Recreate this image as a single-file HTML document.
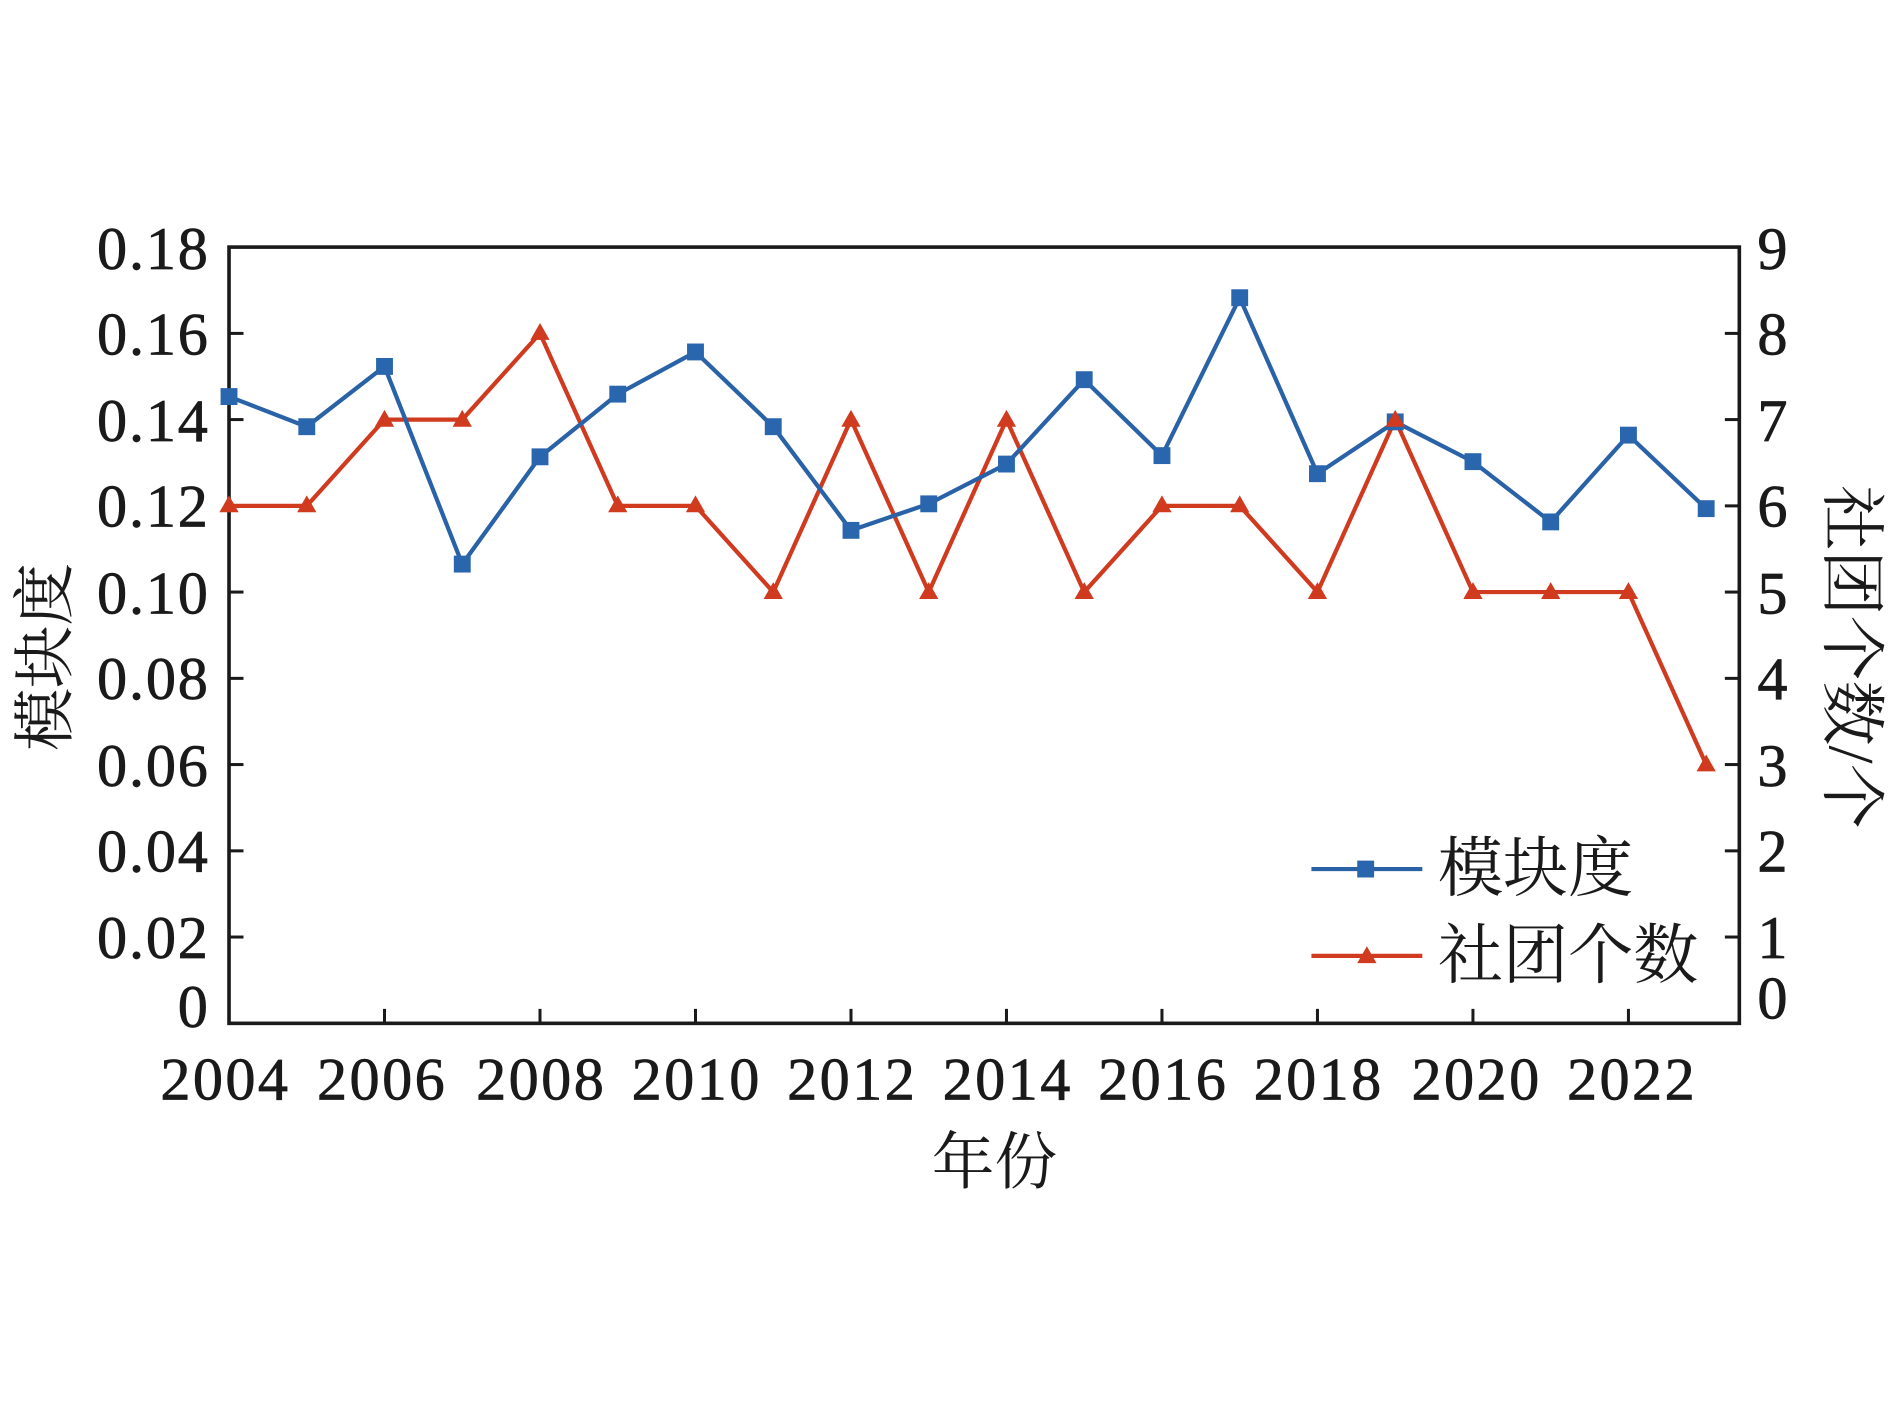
<!DOCTYPE html>
<html><head><meta charset="utf-8"><style>html,body{margin:0;padding:0;background:#fff}svg{display:block}</style></head>
<body>
<svg width="1890" height="1417" viewBox="0 0 1568 1175.6" preserveAspectRatio="none" xmlns="http://www.w3.org/2000/svg" font-family="'Liberation Serif','Noto Serif CJK SC',serif">
<rect width="1568" height="1176" fill="#fff"/>
<rect x="190" y="205" width="1253" height="644" fill="none" stroke="#1a1a1a" stroke-width="3"/>
<g stroke="#1a1a1a" stroke-width="2.5">
<line x1="190" y1="276.6" x2="202" y2="276.6"/><line x1="190" y1="348.1" x2="202" y2="348.1"/><line x1="190" y1="419.7" x2="202" y2="419.7"/><line x1="190" y1="491.2" x2="202" y2="491.2"/><line x1="190" y1="562.8" x2="202" y2="562.8"/><line x1="190" y1="634.3" x2="202" y2="634.3"/><line x1="190" y1="705.9" x2="202" y2="705.9"/><line x1="190" y1="777.4" x2="202" y2="777.4"/>
<line x1="1443" y1="276.6" x2="1431" y2="276.6"/><line x1="1443" y1="348.1" x2="1431" y2="348.1"/><line x1="1443" y1="419.7" x2="1431" y2="419.7"/><line x1="1443" y1="491.2" x2="1431" y2="491.2"/><line x1="1443" y1="562.8" x2="1431" y2="562.8"/><line x1="1443" y1="634.3" x2="1431" y2="634.3"/><line x1="1443" y1="705.9" x2="1431" y2="705.9"/><line x1="1443" y1="777.4" x2="1431" y2="777.4"/>
<line x1="319" y1="849" x2="319" y2="837"/><line x1="448" y1="849" x2="448" y2="837"/><line x1="577" y1="849" x2="577" y2="837"/><line x1="706" y1="849" x2="706" y2="837"/><line x1="835" y1="849" x2="835" y2="837"/><line x1="964" y1="849" x2="964" y2="837"/><line x1="1093" y1="849" x2="1093" y2="837"/><line x1="1222" y1="849" x2="1222" y2="837"/><line x1="1351" y1="849" x2="1351" y2="837"/>
</g>
<g font-size="50" fill="#1a1a1a" text-anchor="end" letter-spacing="1.5" stroke="#1a1a1a" stroke-width="0.6">
<text x="174" y="223">0.18</text><text x="174" y="294">0.16</text><text x="174" y="366">0.14</text><text x="174" y="437">0.12</text><text x="174" y="509">0.10</text><text x="174" y="580">0.08</text><text x="174" y="652">0.06</text><text x="174" y="723">0.04</text><text x="174" y="795">0.02</text><text x="174" y="852">0</text>
</g>
<g font-size="50" fill="#1a1a1a" text-anchor="start" stroke="#1a1a1a" stroke-width="0.6">
<text x="1458" y="223">9</text><text x="1458" y="294">8</text><text x="1458" y="366">7</text><text x="1458" y="437">6</text><text x="1458" y="509">5</text><text x="1458" y="580">4</text><text x="1458" y="652">3</text><text x="1458" y="723">2</text><text x="1458" y="795">1</text><text x="1458" y="845">0</text>
</g>
<g font-size="50" fill="#1a1a1a" text-anchor="middle" letter-spacing="2" stroke="#1a1a1a" stroke-width="0.6">
<text x="187" y="912">2004</text><text x="317" y="912">2006</text><text x="449" y="912">2008</text><text x="578" y="912">2010</text><text x="707" y="912">2012</text><text x="836" y="912">2014</text><text x="965" y="912">2016</text><text x="1094" y="912">2018</text><text x="1225" y="912">2020</text><text x="1354" y="912">2022</text>
</g>
<text x="825" y="982" font-size="52" text-anchor="middle" fill="#1a1a1a">年份</text>
<text transform="translate(55,545) rotate(-90)" font-size="52" text-anchor="middle" fill="#1a1a1a">模块度</text>
<text transform="translate(1518,545) rotate(90)" font-size="54" text-anchor="middle" fill="#1a1a1a">社团个数/个</text>
<polyline fill="none" stroke="#d03a1e" stroke-width="3.5" points="190,419.7 254.5,419.7 319,348.1 383.5,348.1 448,276.6 512.5,419.7 577,419.7 641.5,491.2 706,348.1 770.5,491.2 835,348.1 899.5,491.2 964,419.7 1028.5,419.7 1093,491.2 1157.5,348.1 1222,491.2 1286.5,491.2 1351,491.2 1415.5,634.3"/>
<polyline fill="none" stroke="#2a62a8" stroke-width="3.5" points="190,329 254.5,354 319,304 383.5,468 448,379 512.5,327 577,292 641.5,354 706,440 770.5,418 835,385 899.5,315 964,378 1028.5,247 1093,393 1157.5,350 1222,383 1286.5,433 1351,361 1415.5,422"/>
<g fill="#2a66ad">
<rect x="183" y="322" width="14" height="14"/><rect x="247.5" y="347" width="14" height="14"/><rect x="312" y="297" width="14" height="14"/><rect x="376.5" y="461" width="14" height="14"/><rect x="441" y="372" width="14" height="14"/><rect x="505.5" y="320" width="14" height="14"/><rect x="570" y="285" width="14" height="14"/><rect x="634.5" y="347" width="14" height="14"/><rect x="699" y="433" width="14" height="14"/><rect x="763.5" y="411" width="14" height="14"/><rect x="828" y="378" width="14" height="14"/><rect x="892.5" y="308" width="14" height="14"/><rect x="957" y="371" width="14" height="14"/><rect x="1021.5" y="240" width="14" height="14"/><rect x="1086" y="386" width="14" height="14"/><rect x="1150.5" y="343" width="14" height="14"/><rect x="1215" y="376" width="14" height="14"/><rect x="1279.5" y="426" width="14" height="14"/><rect x="1344" y="354" width="14" height="14"/><rect x="1408.5" y="415" width="14" height="14"/>
</g>
<g fill="#d03a1e">
<path d="M190,411l8,14h-16z"/><path d="M254.5,411l8,14h-16z"/><path d="M319,340l8,14h-16z"/><path d="M383.5,340l8,14h-16z"/><path d="M448,268l8,14h-16z"/><path d="M512.5,411l8,14h-16z"/><path d="M577,411l8,14h-16z"/><path d="M641.5,483l8,14h-16z"/><path d="M706,340l8,14h-16z"/><path d="M770.5,483l8,14h-16z"/><path d="M835,340l8,14h-16z"/><path d="M899.5,483l8,14h-16z"/><path d="M964,411l8,14h-16z"/><path d="M1028.5,411l8,14h-16z"/><path d="M1093,483l8,14h-16z"/><path d="M1157.5,340l8,14h-16z"/><path d="M1222,483l8,14h-16z"/><path d="M1286.5,483l8,14h-16z"/><path d="M1351,483l8,14h-16z"/><path d="M1415.5,626l8,14h-16z"/>
</g>
<line x1="1088" y1="721" x2="1180" y2="721" stroke="#2a62a8" stroke-width="3.5"/>
<rect x="1126" y="714" width="14" height="14" fill="#2a66ad"/>
<line x1="1088" y1="793" x2="1180" y2="793" stroke="#d03a1e" stroke-width="3.5"/>
<path d="M1134,785l8,14h-16z" fill="#d03a1e"/>
<text x="1193" y="739" font-size="54" fill="#1a1a1a">模块度</text>
<text x="1193" y="811" font-size="54" fill="#1a1a1a">社团个数</text>
</svg>
</body></html>
